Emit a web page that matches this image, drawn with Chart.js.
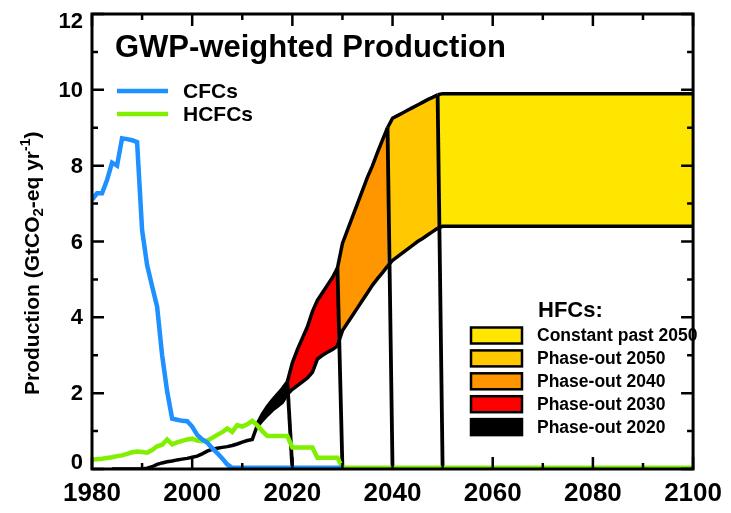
<!DOCTYPE html>
<html>
<head>
<meta charset="utf-8">
<script src="https://cdn.jsdelivr.net/npm/chart.js@4/dist/chart.umd.min.js"></script>
<style>
  html, body { margin: 0; padding: 0; background: #ffffff; }
  #wrap { width: 731px; height: 513px; position: relative; }
</style>
</head>
<body>
<div id="wrap"><canvas id="chart" width="731" height="513"></canvas></div>
<script>
// ---- Data (GtCO2-eq per year) ----
const cfcYears = [1980,1981,1982,1983,1984,1985,1986,1987,1988,1989,1990,1991,1992,1993,1994,1995,1996,1997,1998,1999,2000,2001,2002,2003,2004,2005,2006,2007,2008,2030];
const cfcValues = [7.1,7.27,7.27,7.62,8.08,8.0,8.72,8.7,8.67,8.62,6.3,5.38,4.82,4.28,3.0,2.05,1.33,1.3,1.27,1.26,1.12,0.9,0.78,0.7,0.55,0.42,0.28,0.12,0.03,0.03];

const hcfcYears = [1980,1981,1982,1983,1984,1985,1986,1987,1988,1989,1990,1991,1992,1993,1994,1995,1996,1997,1998,1999,2000,2001,2002,2003,2004,2005,2006,2007,2008,2009,2010,2011,2012,2013,2014,2015,2019,2020,2024,2025,2029,2030,2100];
const hcfcValues = [0.24,0.26,0.27,0.29,0.31,0.34,0.36,0.4,0.44,0.46,0.45,0.43,0.5,0.6,0.64,0.78,0.65,0.7,0.74,0.78,0.8,0.75,0.73,0.75,0.82,0.9,0.97,1.07,0.98,1.16,1.12,1.18,1.27,1.15,1.0,0.87,0.87,0.57,0.57,0.3,0.3,0.03,0.03];

const hfcHistYears = [1984,1985,1986,1987,1988,1989,1990,1991,1992,1993,1994,1995,1996,1997,1998,1999,2000,2001,2002,2003,2004,2005,2006,2007,2008,2009,2010,2011,2012,2013];
const hfcHistValues = [0,0,0,0,0,0,0,0.02,0.06,0.12,0.16,0.19,0.21,0.24,0.26,0.28,0.31,0.34,0.4,0.47,0.52,0.55,0.57,0.59,0.62,0.66,0.71,0.75,0.78,1.15];

// Projected HFC production range, 2013-2050 and flat to 2100
const scenarioYears = [2013,2014,2015,2016,2017,2018,2019,2020,2021,2022,2023,2024,2025,2026,2027,2028,2029,2030,2031,2032,2033,2034,2035,2036,2037,2038,2039,2040,2041,2042,2043,2044,2045,2046,2047,2048,2049,2050,2100];
const scenarioUpper = [1.2,1.45,1.65,1.82,1.97,2.12,2.3,2.8,3.15,3.45,3.75,4.15,4.45,4.65,4.85,5.05,5.3,5.95,6.3,6.65,7.0,7.35,7.7,8.0,8.35,8.68,9.0,9.25,9.32,9.39,9.46,9.53,9.6,9.67,9.74,9.8,9.87,9.9,9.9];
const scenarioLower = [1.12,1.28,1.42,1.55,1.65,1.76,1.97,2.1,2.2,2.3,2.4,2.55,2.9,3.0,3.08,3.15,3.25,3.65,3.85,4.05,4.25,4.45,4.65,4.85,5.02,5.18,5.35,5.5,5.6,5.7,5.8,5.9,6.0,6.08,6.17,6.26,6.35,6.4,6.4];

const phaseOutYears = [2020, 2030, 2040, 2050];
const bandLabels = ['Phase-out 2020', 'Phase-out 2030', 'Phase-out 2040', 'Phase-out 2050', 'Constant past 2050'];
const bandColors = ['#000000', '#FF0000', '#FF9600', '#FFC800', '#FFE600'];

const cfcColor = '#1E90FF';
const hcfcColor = '#80F000';
const FONT = '"Liberation Sans", Arial, Helvetica, sans-serif';

// ---- Build datasets ----
const pts = (xs, ys) => xs.map((x, i) => ({ x: x, y: ys[i] }));

function bandSlice(fromYear, toYear, arr) {
  const out = [];
  scenarioYears.forEach((yr, i) => {
    if (yr >= fromYear && yr <= toYear) out.push({ x: yr, y: arr[i] });
  });
  return out;
}

const datasets = [];
datasets.push({ label: 'CFCs', data: pts(cfcYears, cfcValues), borderColor: cfcColor, borderWidth: 4.5, fill: false });
datasets.push({ label: 'HCFCs', data: pts(hcfcYears, hcfcValues), borderColor: hcfcColor, borderWidth: 4.5, fill: false });

// Phase-out drops: production falls from the upper range to zero within a year
phaseOutYears.forEach(p => {
  const i = scenarioYears.indexOf(p - 1);
  datasets.push({ label: 'drop ' + p, data: [{ x: p - 1, y: scenarioUpper[i] }, { x: p, y: 0 }], borderColor: '#000', borderWidth: 3.8, fill: false });
});

datasets.push({ label: 'HFCs', data: pts(hfcHistYears, hfcHistValues), borderColor: '#000', borderWidth: 3.5, fill: false });

// Bands between the upper and lower projections, one per phase-out period
const bandStarts = [scenarioYears[0]].concat(phaseOutYears.map(p => p - 1));
const bandEnds = phaseOutYears.map(p => p - 1).concat([scenarioYears[scenarioYears.length - 1]]);
bandStarts.forEach((s, k) => {
  datasets.push({ label: bandLabels[k] + ' upper', data: bandSlice(s, bandEnds[k], scenarioUpper), borderColor: '#000', borderWidth: 3.5, backgroundColor: bandColors[k], fill: '+1' });
  datasets.push({ label: bandLabels[k] + ' lower', data: bandSlice(s, bandEnds[k], scenarioLower), borderColor: '#000', borderWidth: 3.5, fill: false });
});

// ---- Frame, inward ticks, y labels, title and legends ----
const decorations = {
  id: 'decorations',
  afterDatasetsDraw(chart) {
    const c = chart.ctx;
    const a = chart.chartArea;
    const xs = chart.scales.x, ys = chart.scales.y;
    c.save();
    c.strokeStyle = '#000';
    c.fillStyle = '#000';

    // inward tick marks on all four sides
    c.lineWidth = 2.5;
    c.beginPath();
    for (let v = xs.min; v <= xs.max; v += 10) {
      const px = xs.getPixelForValue(v);
      const len = (v - xs.min) % 20 === 0 ? 12 : 6;
      c.moveTo(px, a.bottom); c.lineTo(px, a.bottom - len);
      c.moveTo(px, a.top); c.lineTo(px, a.top + len);
    }
    for (let v = ys.min; v <= ys.max; v += 1) {
      const py = ys.getPixelForValue(v);
      const len = v % 2 === 0 ? 12 : 6;
      c.moveTo(a.left, py); c.lineTo(a.left + len, py);
      c.moveTo(a.right, py); c.lineTo(a.right - len, py);
    }
    c.stroke();

    // frame
    c.lineWidth = 3;
    c.strokeRect(a.left, a.top, a.right - a.left, a.bottom - a.top);

    // y tick labels, kept inside the frame height
    c.font = 'bold 22px ' + FONT;
    c.textAlign = 'right';
    c.textBaseline = 'middle';
    ys.ticks.forEach(t => {
      let py = ys.getPixelForValue(t.value);
      py = Math.min(Math.max(py, a.top + 7), a.bottom - 7);
      c.fillText(String(t.value), a.left - 9, py + 1);
    });

    // y axis title with sub- and superscript
    c.save();
    c.translate(39, 395);
    c.rotate(-Math.PI / 2);
    c.textAlign = 'left';
    c.textBaseline = 'alphabetic';
    let x = 0;
    const parts = [
      ['Production (GtCO', 21, 0],
      ['2', 15, 4],
      ['-eq yr', 21, 0],
      ['-1', 14, -9],
      [')', 21, 0]
    ];
    parts.forEach(([txt, size, dy]) => {
      c.font = 'bold ' + size + 'px ' + FONT;
      c.fillText(txt, x, dy);
      x += c.measureText(txt).width;
    });
    c.restore();

    // title
    c.font = 'bold 31px ' + FONT;
    c.textAlign = 'left';
    c.textBaseline = 'alphabetic';
    c.fillText('GWP-weighted Production', 115, 57);

    // CFC / HCFC legend
    c.lineWidth = 4.5;
    [[cfcColor, 'CFCs', 91], [hcfcColor, 'HCFCs', 114]].forEach(([col, txt, y]) => {
      c.strokeStyle = col;
      c.beginPath(); c.moveTo(117, y); c.lineTo(168, y); c.stroke();
      c.font = 'bold 21px ' + FONT;
      c.textBaseline = 'middle';
      c.fillStyle = '#000';
      c.fillText(txt, 183, y + 1);
    });

    // HFC legend
    c.font = 'bold 22px ' + FONT;
    c.textBaseline = 'middle';
    c.fillText('HFCs:', 538, 311);
    const order = [4, 3, 2, 1, 0];
    order.forEach((k, r) => {
      const cy = 335.5 + r * 22.9;
      c.fillStyle = bandColors[k];
      c.fillRect(471, cy - 8, 51, 16);
      c.strokeStyle = '#000';
      c.lineWidth = 2.5;
      c.strokeRect(471, cy - 8, 51, 16);
      c.fillStyle = '#000';
      c.font = 'bold 17.5px ' + FONT;
      c.fillText(bandLabels[k], 537, cy + 1);
    });
    c.restore();
  }
};

Chart.defaults.font.family = FONT;

new Chart(document.getElementById('chart'), {
  type: 'line',
  data: { datasets: datasets },
  options: {
    responsive: false,
    animation: false,
    devicePixelRatio: 1,
    layout: { padding: { left: 0, right: 31, top: 14, bottom: 0 } },
    plugins: { legend: { display: false }, tooltip: { enabled: false }, filler: { drawTime: 'beforeDatasetsDraw' } },
    elements: { point: { radius: 0 }, line: { tension: 0, borderJoinStyle: 'miter', borderCapStyle: 'butt' } },
    scales: {
      x: {
        type: 'linear', min: 1980, max: 2100,
        ticks: { stepSize: 20, color: '#000', font: { size: 26, weight: 'bold' }, padding: 9, maxRotation: 0, autoSkip: false, callback: v => String(v) },
        grid: { display: false, drawTicks: false },
        border: { display: false },
        afterFit(s) { s.height = 44; }
      },
      y: {
        type: 'linear', min: 0, max: 12,
        ticks: { stepSize: 2, display: false },
        grid: { display: false, drawTicks: false },
        border: { display: false },
        afterFit(s) { s.width = 92; }
      }
    }
  },
  plugins: [decorations]
});
</script>
</body>
</html>
